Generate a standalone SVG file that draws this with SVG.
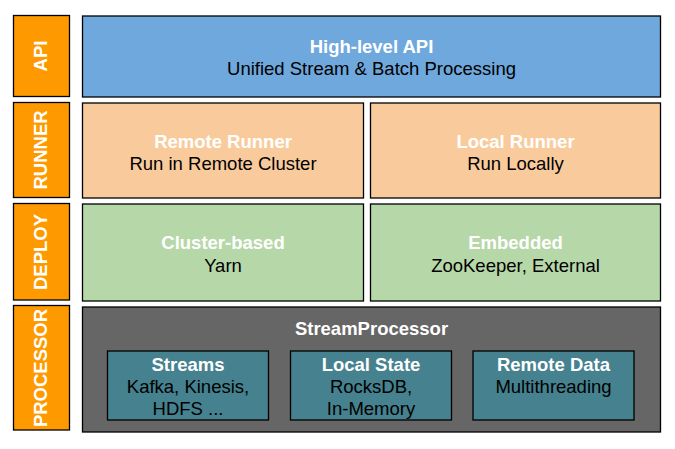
<svg xmlns="http://www.w3.org/2000/svg" width="675" height="449" viewBox="0 0 675 449">
<style>
.b{stroke:#000;stroke-width:1.3}
.lab{fill:#ff9900}
.t{font-family:"Liberation Sans",Arial,sans-serif;font-size:18.5px;text-anchor:middle}
.h{font-weight:bold;fill:#fff}
.d{fill:#000}
.v{font-family:"Liberation Sans",Arial,sans-serif;font-size:18.5px;font-weight:bold;fill:#fff;text-anchor:middle}
</style>
<rect width="675" height="449" fill="#fff"/>
<g id="lab-api"><rect class="b lab" x="13.5" y="15.5" width="56" height="81"/><text class="v" transform="translate(47,56) rotate(-90)">API</text></g>
<g id="lab-runner"><rect class="b lab" x="13.5" y="102.5" width="56" height="95"/><text class="v" transform="translate(47,150) rotate(-90)">RUNNER</text></g>
<g id="lab-deploy"><rect class="b lab" x="13.5" y="203.5" width="56" height="96.5"/><text class="v" transform="translate(47,252) rotate(-90)">DEPLOY</text></g>
<g id="lab-processor"><rect class="b lab" x="13.5" y="305.5" width="56" height="124.5"/><text class="v" transform="translate(47,368) rotate(-90)">PROCESSOR</text></g>
<g id="api"><rect class="b" fill="#6fa8dc" x="82.5" y="16" width="578" height="81"/><text class="t h" x="371.5" y="52.5">High-level API</text><text class="t d" x="371.5" y="75">Unified Stream &amp; Batch Processing</text></g>
<g id="remote-runner"><rect class="b" fill="#f9cb9c" x="82.5" y="103" width="281" height="95"/><text class="t h" x="223" y="148">Remote Runner</text><text class="t d" x="223" y="170">Run in Remote Cluster</text></g>
<g id="local-runner"><rect class="b" fill="#f9cb9c" x="370.5" y="103" width="290" height="95"/><text class="t h" x="515.5" y="148">Local Runner</text><text class="t d" x="515.5" y="170">Run Locally</text></g>
<g id="cluster"><rect class="b" fill="#b6d7a8" x="82.5" y="204" width="281" height="97"/><text class="t h" x="223" y="249">Cluster-based</text><text class="t d" x="223" y="271.5">Yarn</text></g>
<g id="embedded"><rect class="b" fill="#b6d7a8" x="370.5" y="204" width="290" height="97"/><text class="t h" x="515.5" y="249">Embedded</text><text class="t d" x="515.5" y="271.5">ZooKeeper, External</text></g>
<g id="processor"><rect class="b" fill="#666666" x="82.5" y="307" width="578" height="125"/><text class="t h" x="371.5" y="334.5">StreamProcessor</text></g>
<g id="streams"><rect class="b" fill="#45818e" x="107.5" y="351" width="161" height="69"/><text class="t h" x="188" y="370.5">Streams</text><text class="t d" x="188" y="392.5">Kafka, Kinesis,</text><text class="t d" x="188" y="414.5">HDFS ...</text></g>
<g id="local-state"><rect class="b" fill="#45818e" x="290.5" y="351" width="161" height="69"/><text class="t h" x="371" y="370.5">Local State</text><text class="t d" x="371" y="392.5">RocksDB,</text><text class="t d" x="371" y="414.5">In-Memory</text></g>
<g id="remote-data"><rect class="b" fill="#45818e" x="473" y="351" width="161" height="69"/><text class="t h" x="553.5" y="370.5">Remote Data</text><text class="t d" x="553.5" y="392.5">Multithreading</text></g>
<g id="connectors"/>
</svg>
